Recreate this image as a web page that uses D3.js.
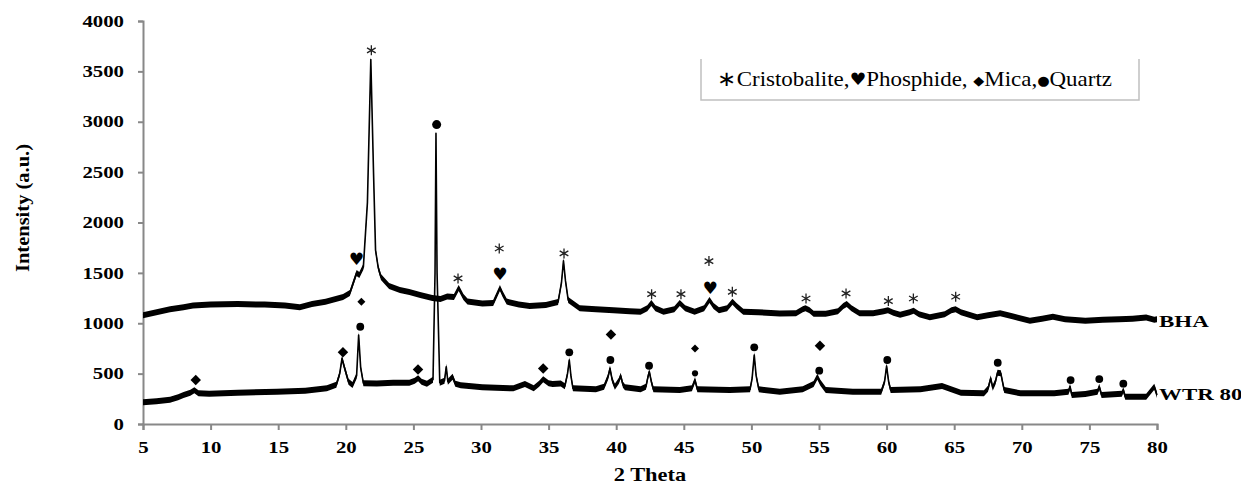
<!DOCTYPE html>
<html>
<head>
	<title>XRD</title>
	<script src="https://d3js.org/d3.v7.min.js"></script>
	<style>
		body { margin: 0; background: #fff; }
		text { font-family: "Liberation Serif", "Times New Roman", serif; }
	</style>
</head>
<body>
	<svg id="chart" width="1241" height="484"></svg>
	<script type="text/javascript">
// BHA pattern (2 theta, intensity)
var thetaBHA = [5.0, 6.0, 7.0, 8.0, 8.7, 10, 12, 14, 15.5, 16.6, 17.5, 18.5, 19.8, 20.3, 20.6, 20.8, 21.0, 21.3, 21.6, 21.85, 22.05, 22.2, 22.4, 22.6, 23.2, 24, 24.7, 25.5, 26.4, 27.0, 27.5, 28.0, 28.35, 28.7, 29.0, 30.1, 30.9, 31.2, 31.4, 31.6, 31.9, 32.8, 33.6, 34.8, 35.7, 35.95, 36.1, 36.25, 36.45, 37.3, 38.5, 39.8, 41, 41.8, 42.3, 42.6, 42.9, 43.5, 44.3, 44.7, 45.1, 45.8, 46.5, 46.9, 47.2, 47.6, 48.2, 48.6, 48.9, 49.4, 50.5, 52.1, 53.3, 53.8, 54.0, 54.3, 54.6, 55.5, 56.4, 56.8, 57.05, 57.4, 58.0, 59, 59.8, 60.1, 60.5, 61.0, 61.7, 62.0, 62.4, 63.2, 64.3, 64.8, 65.1, 65.5, 66.7, 67.5, 68.4, 69.3, 70.6, 71.5, 72.3, 73.2, 74.7, 76, 77.2, 78.2, 79.2, 79.8, 80];
var valuesBHA = [1080, 1110, 1140, 1160, 1175, 1185, 1190, 1185, 1175, 1160, 1190, 1213, 1260, 1300, 1420, 1500, 1480, 1560, 2200, 3617, 2500, 1725, 1550, 1460, 1370, 1330, 1310, 1280, 1250, 1240, 1265, 1260, 1350, 1260, 1215, 1195, 1200, 1290, 1350, 1290, 1215, 1185, 1170, 1180, 1210, 1400, 1620, 1420, 1230, 1150, 1140, 1130, 1120, 1115, 1150, 1200, 1150, 1115, 1140, 1200, 1150, 1115, 1150, 1230, 1170, 1130, 1150, 1213, 1170, 1115, 1110, 1098, 1100, 1140, 1150, 1130, 1095, 1095, 1120, 1170, 1190, 1150, 1100, 1100, 1120, 1130, 1105, 1085, 1110, 1125, 1090, 1060, 1090, 1130, 1140, 1110, 1060, 1080, 1100, 1070, 1025, 1045, 1065, 1040, 1025, 1035, 1040, 1045, 1058, 1035, 1040];

// WTR 80 pattern
var thetaWTR = [5.0, 6.0, 7.0, 7.6, 8.0, 8.5, 8.8, 9.1, 9.9, 12, 14.9, 17, 18.6, 19.3, 19.55, 19.72, 19.9, 20.2, 20.5, 20.8, 20.95, 21.1, 21.3, 22.3, 23.5, 24.7, 25.1, 25.35, 25.6, 26.0, 26.45, 26.6, 26.67, 26.75, 26.95, 27.3, 27.43, 27.55, 27.9, 28.1, 28.5, 30.1, 32.4, 33.25, 33.9, 34.3, 34.6, 35.0, 35.3, 35.9, 36.2, 36.4, 36.53, 36.65, 36.8, 38.5, 39.1, 39.4, 39.54, 39.7, 39.9, 40.2, 40.33, 40.5, 40.65, 41.8, 42.2, 42.35, 42.45, 42.6, 42.75, 44.7, 45.6, 45.83, 46.0, 48.4, 49.9, 50.05, 50.21, 50.35, 50.55, 52.1, 53.8, 54.6, 54.88, 55.1, 55.5, 57.5, 59.6, 59.85, 60.0, 60.15, 60.3, 62.5, 64.1, 65.5, 67.2, 67.5, 67.7, 67.85, 68.05, 68.2, 68.45, 68.6, 68.7, 69.9, 72.4, 73.45, 73.57, 73.7, 74.7, 75.6, 75.73, 75.9, 77.4, 77.51, 77.65, 79.2, 79.8, 80];
var valuesWTR = [215, 225, 240, 265, 288, 310, 335, 305, 300, 310, 320, 330, 354, 390, 500, 651, 560, 420, 387, 480, 883, 560, 405, 403, 410, 410, 430, 455, 420, 400, 440, 1500, 2886, 1500, 410, 430, 568, 420, 470, 400, 385, 364, 354, 397, 354, 400, 443, 405, 397, 403, 375, 500, 635, 480, 354, 344, 370, 470, 552, 440, 370, 430, 479, 390, 364, 344, 370, 470, 519, 420, 344, 337, 354, 436, 344, 337, 344, 450, 684, 480, 344, 320, 344, 397, 469, 410, 337, 320, 320, 420, 575, 420, 337, 344, 376, 310, 304, 350, 453, 360, 420, 509, 503, 400, 337, 304, 304, 320, 370, 288, 298, 320, 370, 288, 300, 337, 271, 271, 370, 288];

var xTicks = [5, 10, 15, 20, 25, 30, 35, 40, 45, 50, 55, 60, 65, 70, 75, 80];
var yTicks = [0, 500, 1000, 1500, 2000, 2500, 3000, 3500, 4000];

// phase marks above the peaks
var markTheta = [21.89, 20.78, 28.3, 31.35, 31.4, 36.14, 42.62, 44.79, 46.86, 46.94, 48.59, 54.04, 57.0, 60.13, 61.98, 65.11,
                 8.9, 19.79, 21.15, 21.07, 25.34, 26.72, 34.6, 36.53, 39.61, 39.57, 42.43, 45.83, 45.83, 50.21, 55.07, 55.02, 60.05, 68.22, 73.61, 75.73, 77.51];
var markValue = [3709, 1636, 1445, 1742, 1485, 1693, 1289, 1289, 1617, 1346, 1312, 1246, 1296, 1220, 1246, 1263,
                 436, 711, 1213, 965, 542, 2972, 552, 711, 889, 635, 578, 750, 503, 761, 777, 529, 635, 608, 436, 446, 400];
var markType = ['cri', 'pho', 'cri', 'cri', 'pho', 'cri', 'cri', 'cri', 'cri', 'pho', 'cri', 'cri', 'cri', 'cri', 'cri', 'cri',
                'mica', 'mica', 'micaS', 'qtz', 'mica', 'qtzL', 'mica', 'qtz', 'mica', 'qtz', 'qtz', 'micaS', 'qtzS', 'qtz', 'mica', 'qtz', 'qtz', 'qtz', 'qtz', 'qtz', 'qtz'];

var legendText = ['\u2217Cristobalite,', '\u2665', 'Phosphide, ', '\u25C6', 'Mica,', '\u25CF', 'Quartz'];
var seriesNames = ['BHA', 'WTR 80'];

var svg = d3.select('#chart');
var axisColor = '#888888';
var serif = '"Liberation Serif", "Times New Roman", serif';

var x = d3.scaleLinear().domain([5, 80]).range([143, 1157]);
var y = d3.scaleLinear().domain([0, 4000]).range([424, 21]);

// widen text like the original picture
function stretch(sel, k) {
    sel.each(function() {
        var w = this.getComputedTextLength();
        d3.select(this).attr('textLength', w * k).attr('lengthAdjust', 'spacingAndGlyphs');
    });
}

// axes
var yAxis = svg.append('g')
    .attr('transform', 'translate(143,0)')
    .call(d3.axisLeft(y).tickValues(yTicks).tickSize(5).tickPadding(14).tickFormat(d3.format('d')));
var xAxis = svg.append('g')
    .attr('transform', 'translate(0,424)')
    .call(d3.axisBottom(x).tickValues(xTicks).tickSize(6).tickFormat(d3.format('d')));

[yAxis, xAxis].forEach(function(a) {
    a.select('.domain').attr('stroke', axisColor).attr('stroke-width', 2);
    a.selectAll('.tick line').attr('stroke', axisColor).attr('stroke-width', 2);
    a.selectAll('.tick text')
        .attr('fill', '#000')
        .style('font-family', serif)
        .style('font-weight', 'bold')
        .style('font-size', '16px');
});
xAxis.selectAll('.tick text').attr('y', 29).attr('dy', 0);
stretch(yAxis.selectAll('.tick text'), 1.3);
stretch(xAxis.selectAll('.tick text'), 1.3);

// axis titles
var xTitle = svg.append('text')
    .attr('x', 650).attr('y', 481)
    .attr('text-anchor', 'middle')
    .style('font-weight', 'bold').style('font-size', '19px')
    .text('2 Theta');
stretch(xTitle, 1.18);

var yTitle = svg.append('text')
    .attr('transform', 'translate(29,208) rotate(-90)')
    .attr('text-anchor', 'middle')
    .style('font-weight', 'bold').style('font-size', '19px')
    .text('Intensity (a.u.)');
yTitle.attr('textLength', 128).attr('lengthAdjust', 'spacingAndGlyphs');

// patterns: counting noise drawn as a band of fixed pixel height, plus the trace
var noise = 3;
var band = d3.area()
    .x(function(d) { return x(d[0]); })
    .y0(function(d) { return y(d[1]) - noise; })
    .y1(function(d) { return y(d[1]) + noise; });
var line = d3.line()
    .x(function(d) { return x(d[0]); })
    .y(function(d) { return y(d[1]); });

var series = [d3.zip(thetaBHA, valuesBHA), d3.zip(thetaWTR, valuesWTR)];
svg.selectAll('path.band')
    .data(series)
    .enter().append('path')
    .attr('class', 'band')
    .attr('d', band)
    .attr('fill', '#000');
svg.selectAll('path.pattern')
    .data(series)
    .enter().append('path')
    .attr('class', 'pattern')
    .attr('d', line)
    .attr('fill', 'none')
    .attr('stroke', '#000')
    .attr('stroke-width', 1.6)
    .attr('stroke-linejoin', 'round');

// series labels at the right end
svg.selectAll('text.sname')
    .data(seriesNames)
    .enter().append('text')
    .attr('class', 'sname')
    .attr('x', 1159)
    .attr('y', function(d, i) { return i === 0 ? 327 : 400; })
    .style('font-family', serif)
    .style('font-weight', 'bold').style('font-size', '17px')
    .text(function(d) { return d; })
    .call(stretch, 1.35);

// peak marks
var markStyle = {
    cri:   { shape: d3.symbolAsterisk, size: 70 },
    mica:  { shape: d3.symbolSquare, size: 55 },
    micaS: { shape: d3.symbolSquare, size: 32 },
    qtz:   { shape: d3.symbolCircle, size: 48 },
    qtzS:  { shape: d3.symbolCircle, size: 30 },
    qtzL:  { shape: d3.symbolCircle, size: 64 }
};
var marks = d3.zip(markTheta, markValue, markType);

svg.selectAll('path.mark')
    .data(marks.filter(function(d) { return d[2] !== 'pho'; }))
    .enter().append('path')
    .attr('class', 'mark')
    .attr('transform', function(d) {
        var t = 'translate(' + x(d[0]) + ',' + y(d[1]) + ')';
        if (d[2].indexOf('mica') === 0) t += ' rotate(45)';
        return t;
    })
    .attr('d', function(d) { return d3.symbol().type(markStyle[d[2]].shape).size(markStyle[d[2]].size)(); })
    .attr('fill', function(d) { return d[2] === 'cri' ? 'none' : '#000'; })
    .attr('stroke', function(d) { return d[2] === 'cri' ? '#222' : 'none'; })
    .attr('stroke-width', 1.3);

svg.selectAll('text.heart')
    .data(marks.filter(function(d) { return d[2] === 'pho'; }))
    .enter().append('text')
    .attr('class', 'heart')
    .attr('x', function(d) { return x(d[0]); })
    .attr('y', function(d) { return y(d[1]) + 6; })
    .attr('text-anchor', 'middle')
    .style('font-family', '"DejaVu Sans", sans-serif')
    .style('font-size', '17px')
    .text('\u2665');

// legend box (no top edge in the original)
svg.append('path')
    .attr('d', 'M701,59V100H1139V59')
    .attr('fill', 'none')
    .attr('stroke', '#c0c0c0')
    .attr('stroke-width', 1.5);

var legend = svg.append('text')
    .attr('x', 717).attr('y', 86)
    .style('font-family', serif)
    .style('font-size', '21px');
legend.selectAll('tspan')
    .data(legendText)
    .enter().append('tspan')
    .style('font-family', function(d, i) { return i % 2 === 1 ? '"DejaVu Sans", sans-serif' : serif; })
    .style('font-size', function(d, i) { return i === 1 ? '17px' : (i % 2 === 1 ? '13px' : null); })
    .attr('dy', function(d, i) { return i % 2 === 1 ? -1 : (i > 0 ? 1 : 0); })
    .text(function(d) { return d; });
legend.attr('textLength', 395).attr('lengthAdjust', 'spacingAndGlyphs');
	</script>
</body>
</html>
